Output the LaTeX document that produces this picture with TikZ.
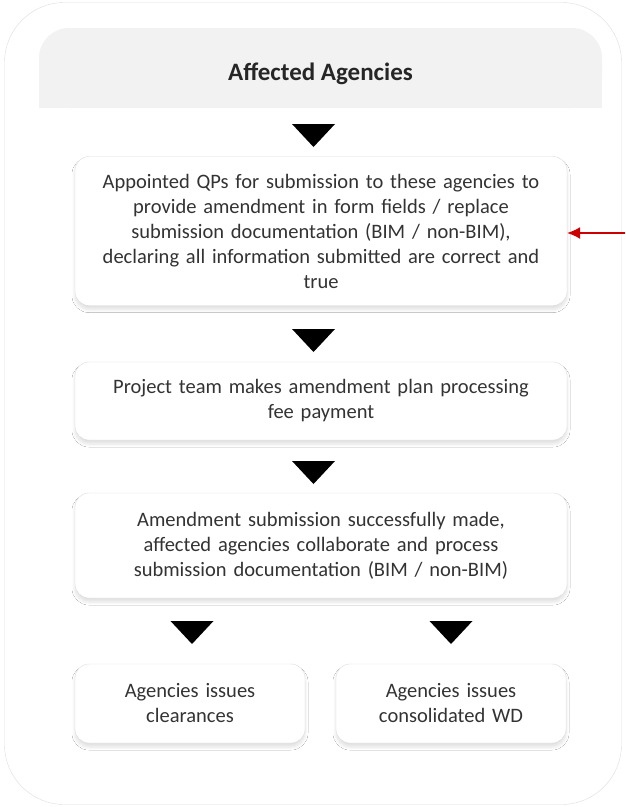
\documentclass[tikz,border=0pt]{standalone}
\usepackage{fontspec}
\setmainfont{Carlito}
\usetikzlibrary{arrows.meta,positioning,shadows.blur}

\definecolor{bordergray}{HTML}{DDDDDD}
\definecolor{headgray}{HTML}{F2F2F2}
\definecolor{textgray}{HTML}{333333}
\definecolor{arrowred}{HTML}{CC0000}

\tikzset{
  stepbox/.style={rectangle, rounded corners=14, draw=bordergray, fill=white,
    text=textgray, align=center, font=\fontsize{20.5}{25}\selectfont,
    minimum width=492, minimum height=#1, text width=480,
    blur shadow={shadow xshift=0pt, shadow yshift=-4pt, shadow blur radius=3pt,
      shadow blur steps=8, shadow opacity=12}},
  smallbox/.style={stepbox=79, minimum width=230, text width=220},
}

\begin{document}
\begin{tikzpicture}[x=1pt,y=-1pt]
\useasboundingbox (0,0) rectangle (625,807);
\draw[bordergray, rounded corners=60, fill=white] (4.5,2.5) rectangle (621.5,804.5);
% header band
\node[rectangle, rounded corners=30, fill=headgray, minimum width=563, minimum height=80] (head) at (320.5,68) {};
\fill[headgray] (head.west) rectangle (head.south east);
\node[font=\fontsize{25}{28}\selectfont\bfseries, text=black!85] at ([yshift=-6]head.center) {Affected Agencies};

\node[stepbox=149] (qp) at (321,231) {Appointed QPs for submission to these agencies to\\provide amendment in form fields / replace\\submission documentation (BIM / non-BIM),\\declaring all information submitted are correct and\\true};
\node[stepbox=78] (fee) at (321,401) {Project team makes amendment plan processing\\fee payment};
\node[stepbox=105] (made) at (321,545.5) {Amendment submission successfully made,\\affected agencies collaborate and process\\submission documentation (BIM / non-BIM)};
\node[smallbox] (clear) at (190,703.5) {Agencies issues\\clearances};
\node[smallbox] (wd) at (451,703.5) {Agencies issues\\consolidated WD};

% triangles
\fill (292,124) -- ++(43,0) -- ++(-21.5,23) -- cycle;
\fill (292,329) -- ++(43,0) -- ++(-21.5,23) -- cycle;
\fill (292,461) -- ++(43,0) -- ++(-21.5,23) -- cycle;
\fill (170.5,621) -- ++(43,0) -- ++(-21.5,23) -- cycle;
\fill (429.5,621) -- ++(43,0) -- ++(-21.5,23) -- cycle;

\coordinate (redin) at (625,233);
\draw[arrowred, line width=1.2, -{Latex[length=13,width=12]}] (redin) -- (redin -| qp.east);
\end{tikzpicture}
\end{document}
